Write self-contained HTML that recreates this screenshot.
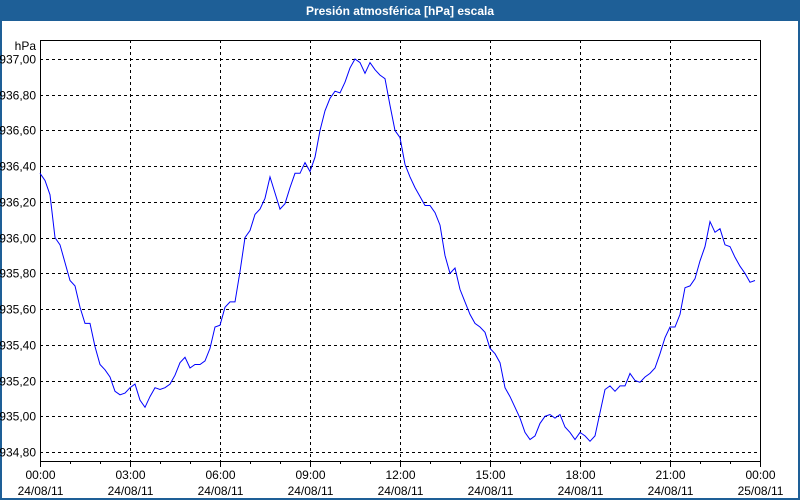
<!DOCTYPE html>
<html><head><meta charset="utf-8"><style>
body{margin:0;width:800px;height:500px;overflow:hidden;background:#fff;font-family:"Liberation Sans",sans-serif}
</style></head><body>
<svg id="chart" width="800" height="500" xmlns="http://www.w3.org/2000/svg" style="display:block">
<rect x="0" y="0" width="800" height="500" fill="#fff"/>
<rect x="1" y="1" width="798" height="498" fill="none" stroke="#1e5f97" stroke-width="2"/>
<rect x="0" y="0" width="800" height="21" fill="#1e5f97"/>
<text x="400" y="15" text-anchor="middle" fill="#fff" font-size="12" font-weight="bold">Presión atmosférica [hPa] escala</text>
<text x="36" y="50" text-anchor="end" font-size="12" fill="#000">hPa</text>
<g id="grid"></g>
<g id="axes"></g>
<g id="series"></g>
</svg>
<script>
const yTicks=[934.8,935.0,935.2,935.4,935.6,935.8,936.0,936.2,936.4,936.6,936.8,937.0];
const xTickHours=[0,3,6,9,12,15,18,21,24];
const xTimeLabels=["00:00","03:00","06:00","09:00","12:00","15:00","18:00","21:00","00:00"];
const xDateLabels=["24/08/11","24/08/11","24/08/11","24/08/11","24/08/11","24/08/11","24/08/11","24/08/11","25/08/11"];
const stepMinutes=10;
const pressure=[936.36,936.32,936.24,936.00,935.96,935.86,935.76,935.73,935.61,935.52,935.52,935.39,935.29,935.26,935.22,935.14,935.12,935.13,935.16,935.18,935.09,935.05,935.11,935.16,935.15,935.16,935.18,935.23,935.30,935.33,935.27,935.29,935.29,935.31,935.38,935.50,935.51,935.61,935.64,935.64,935.81,936.00,936.04,936.13,936.16,936.22,936.34,936.25,936.16,936.19,936.28,936.36,936.36,936.42,936.37,936.45,936.60,936.71,936.78,936.82,936.81,936.87,936.95,937.00,936.98,936.92,936.98,936.94,936.91,936.89,936.74,936.60,936.56,936.41,936.34,936.28,936.23,936.18,936.18,936.14,936.07,935.90,935.80,935.83,935.71,935.64,935.57,935.52,935.50,935.47,935.38,935.35,935.30,935.16,935.11,935.05,934.99,934.91,934.87,934.89,934.96,935.00,935.01,934.99,935.01,934.94,934.91,934.87,934.91,934.89,934.86,934.89,935.02,935.15,935.17,935.14,935.17,935.17,935.24,935.20,935.19,935.22,935.24,935.27,935.35,935.44,935.50,935.50,935.57,935.72,935.73,935.77,935.87,935.95,936.09,936.03,936.05,935.96,935.95,935.89,935.84,935.80,935.75,935.76];

const L=40,R=760,T=40,B=461;
const xScale=h=>L+(h/24)*(R-L);
const yScale=v=>59+(937.0-v)*(452-59)/2.2;
const NS="http://www.w3.org/2000/svg";
function mk(tag,attrs,parent){const e=document.createElementNS(NS,tag);for(const k in attrs)e.setAttribute(k,attrs[k]);parent.appendChild(e);return e;}
const grid=document.getElementById('grid'),axes=document.getElementById('axes'),series=document.getElementById('series');

yTicks.forEach(v=>{
  const y=Math.round(yScale(v))+0.5;
  const gl=mk('line',{x1:L,x2:R,y1:y,y2:y,stroke:'#000','stroke-dasharray':'3,3','stroke-width':1},grid);
  
  
  const t=mk('text',{x:36,y:y+4,'text-anchor':'end','font-size':12,fill:'#000'},axes);
  t.textContent=v.toFixed(2).replace('.',',');
  
  
});
xTickHours.forEach((h,i)=>{
  const x=Math.round(xScale(h))+0.5;
  if(h>0&&h<24){
    const gl=mk('line',{x1:x,x2:x,y1:T,y2:B,stroke:'#000','stroke-dasharray':'3,3','stroke-width':1},grid);
    
    
  }
  const tk=mk('line',{x1:x,x2:x,y1:B,y2:B+6,stroke:'#000'},axes);
  
  
  const t1=mk('text',{x:x,y:479,'text-anchor':'middle','font-size':12,fill:'#000'},axes);
  t1.textContent=xTimeLabels[i];
  
  
  const t2=mk('text',{x:x,y:495,'text-anchor':'middle','font-size':12,fill:'#000'},axes);
  t2.textContent=xDateLabels[i];
  
  
});
for(let h=1;h<24;h++){
  if(h%3===0)continue;
  const x=Math.round(xScale(h))+0.5;
  const tk=mk('line',{x1:x,x2:x,y1:B,y2:B+3,stroke:'#000'},axes);
  
  
}
const box=mk('rect',{x:L+0.5,y:T+0.5,width:R-L,height:B-T,fill:'none',stroke:'#000','stroke-width':1},axes);



const pts=pressure.map((v,i)=>xScale(i*stepMinutes/60).toFixed(1)+','+yScale(v).toFixed(1)).join(' ');
const line=mk('polyline',{points:pts,fill:'none',stroke:'#0000ff','stroke-width':1},series);


</script>
</body></html>
